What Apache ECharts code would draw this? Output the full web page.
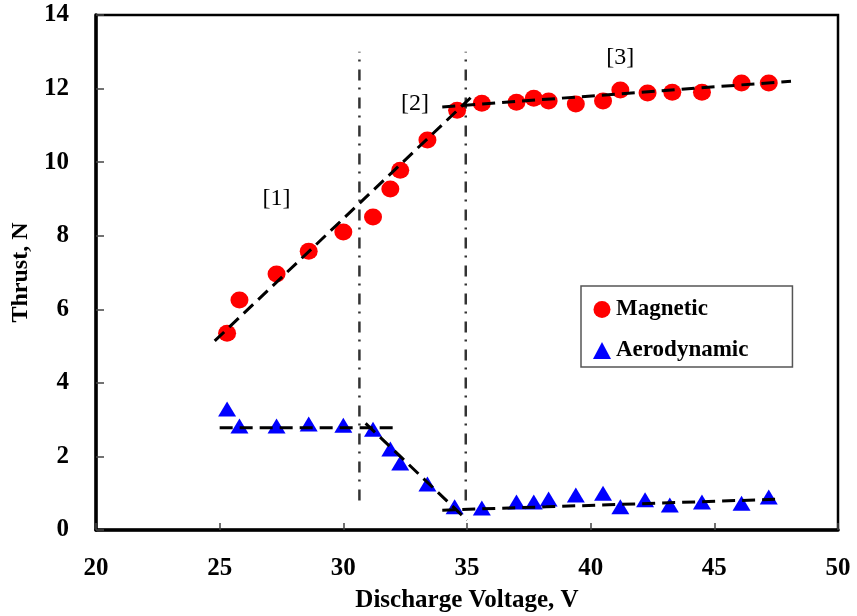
<!DOCTYPE html>
<html>
<head>
<meta charset="utf-8">
<script src="https://cdn.jsdelivr.net/npm/echarts@6/dist/echarts.min.js"></script>
<style>
  html, body { margin: 0; padding: 0; background: #fff; }
  #chart { width: 857px; height: 616px; }
</style>
</head>
<body>
<div id="chart"></div>
<script>
// measured points
var magVolt = [25.3, 25.8, 27.3, 28.6, 30.0, 31.2, 31.9, 32.3, 33.4, 34.6, 35.6, 37.0, 37.7, 38.3, 39.4, 40.5, 41.2, 42.3, 43.3, 44.5, 46.1, 47.2];
var magThrust = [5.35, 6.25, 6.96, 7.58, 8.10, 8.51, 9.27, 9.78, 10.60, 11.41, 11.60, 11.63, 11.74, 11.66, 11.58, 11.66, 11.96, 11.88, 11.90, 11.90, 12.15, 12.15];
var aeroVolt = [25.3, 25.8, 27.3, 28.6, 30.0, 31.2, 31.9, 32.3, 33.4, 34.5, 35.6, 37.0, 37.7, 38.3, 39.4, 40.5, 41.2, 42.2, 43.2, 44.5, 46.1, 47.2];
var aeroThrust = [3.29, 2.83, 2.83, 2.88, 2.85, 2.74, 2.20, 1.82, 1.25, 0.63, 0.60, 0.76, 0.76, 0.84, 0.95, 1.00, 0.63, 0.82, 0.68, 0.76, 0.73, 0.90];

// fitted trend lines
var fitMag1 = [[24.8, 5.14], [35.3, 11.85]];
var fitMag2 = [[34.0, 11.5], [48.1, 12.2]];
var fitAero1 = [[25.0, 2.78], [32.0, 2.78]];
var fitAero2 = [[30.9, 2.9], [35.0, 0.27]];
var fitAero3 = [[34.0, 0.54], [38.2, 0.63], [47.7, 0.84]];

// regime boundaries
var guideX = [30.65, 34.95];
var guideY = [0.8, 13.0];

// region labels
var regionNames = ['[1]', '[2]', '[3]'];
var regionPos = [[27.3, 9.0], [32.9, 11.6], [41.2, 12.85]];

var serif = '"Liberation Serif", "DejaVu Serif", serif';

function zip(xs, ys) {
  return xs.map(function (x, i) { return [x, ys[i]]; });
}

var fitStyle = { color: '#000', width: 3, type: [13, 7] };
function fitSeries(d) {
  return {
    type: 'line', data: d, symbol: 'none', z: 5, silent: true,
    lineStyle: fitStyle
  };
}
function guideSeries(x) {
  return {
    type: 'line', data: [[x, guideY[0]], [x, guideY[1]]], symbol: 'none', z: 4, silent: true,
    lineStyle: { color: '#333', width: 2.5, type: [11, 8, 2, 7] }
  };
}

var chart = echarts.init(document.getElementById('chart'));
chart.setOption({
  animation: false,
  grid: {
    left: 96, right: 19, top: 15, bottom: 86,
    outerBoundsMode: 'none',
    show: true, borderColor: '#000', borderWidth: 2.5
  },
  legend: {
    data: ['Magnetic', 'Aerodynamic'],
    orient: 'vertical',
    left: 581, top: 286,
    padding: [12, 44, 5, 12],
    itemGap: 18,
    itemWidth: 18, itemHeight: 17,
    borderColor: '#555', borderWidth: 1.5,
    textStyle: { fontFamily: serif, fontWeight: 'bold', fontSize: 23, color: '#000' }
  },
  xAxis: {
    type: 'value', min: 20, max: 50, interval: 5,
    name: 'Discharge Voltage, V', nameLocation: 'middle', nameGap: 58,
    nameTextStyle: { fontFamily: serif, fontWeight: 'bold', fontSize: 25, color: '#000' },
    axisLine: { lineStyle: { color: '#000', width: 3.5 } },
    axisTick: { inside: true, length: 7, lineStyle: { color: '#444', width: 1.5 } },
    axisLabel: { fontFamily: serif, fontWeight: 'bold', fontSize: 25, color: '#000', margin: 26 },
    splitLine: { show: false }
  },
  yAxis: {
    type: 'value', min: 0, max: 14, interval: 2,
    name: 'Thrust, N', nameLocation: 'middle', nameGap: 60, nameRotate: 90,
    nameTextStyle: { fontFamily: serif, fontWeight: 'bold', fontSize: 24, color: '#000' },
    axisLine: { lineStyle: { color: '#000', width: 3.5 } },
    axisTick: { inside: true, length: 8, lineStyle: { color: '#444', width: 1.5 } },
    axisLabel: { fontFamily: serif, fontWeight: 'bold', fontSize: 25, color: '#000', margin: 27 },
    splitLine: { show: false }
  },
  series: [
    {
      name: 'Magnetic', type: 'scatter', data: zip(magVolt, magThrust),
      symbol: 'circle', symbolSize: [18, 17], z: 3,
      itemStyle: { color: '#ff0000', opacity: 1 }
    },
    {
      name: 'Aerodynamic', type: 'scatter', data: zip(aeroVolt, aeroThrust),
      symbol: 'triangle', symbolSize: [18, 15], z: 3,
      itemStyle: { color: '#0000ff', opacity: 1 }
    },
    fitSeries(fitMag1),
    fitSeries(fitMag2),
    fitSeries(fitAero1),
    fitSeries(fitAero2),
    fitSeries(fitAero3),
    guideSeries(guideX[0]),
    guideSeries(guideX[1]),
    {
      type: 'scatter', symbolSize: 0, silent: true, z: 6,
      data: regionPos.map(function (p, i) { return { value: p, name: regionNames[i] }; }),
      label: {
        show: true, position: 'inside', formatter: '{b}',
        fontFamily: serif, fontSize: 24, color: '#000', opacity: 1
      }
    }
  ]
});
</script>
</body>
</html>
